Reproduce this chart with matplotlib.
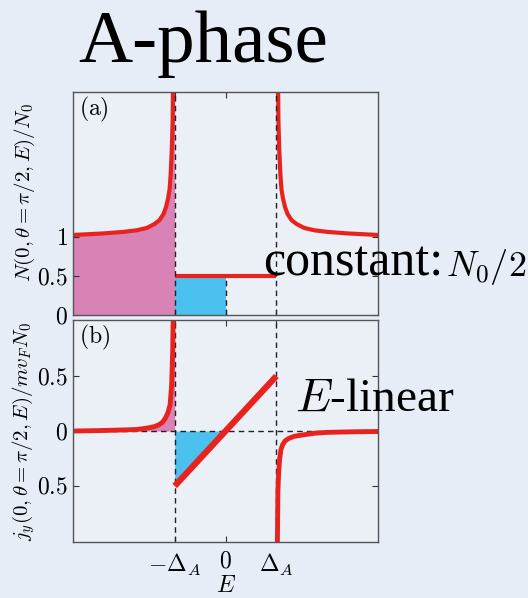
import matplotlib
matplotlib.use("Agg")
import matplotlib.pyplot as plt

plt.rcParams['mathtext.fontset'] = 'cm'
plt.rcParams['font.family'] = ['Liberation Serif', 'DejaVu Serif']

# energy axis ticks (units of Delta_A)
e_ticks = [-1, 0, 1]
e_ticklabels = [r'$-\Delta_A$', r'$0$', r'$\Delta_A$']

# (a) density of states, |E| > Delta_A branch (mirrored)
e_a = [1.035, 1.04, 1.05, 1.06, 1.08, 1.10, 1.13, 1.17, 1.22, 1.30, 1.40, 1.55, 1.75, 2.0, 2.4, 3.0]
n_a = [2.87, 2.5, 2.28, 2.08, 1.8, 1.62, 1.5, 1.39, 1.3, 1.22, 1.17, 1.12, 1.09, 1.07, 1.05, 1.03]
n_gap = 0.5  # constant N0/2 inside the gap

# (b) current, left branch (E < -Delta_A)
e_b_left = [-3.0, -2.5, -2.0, -1.75, -1.54, -1.4, -1.31, -1.24, -1.18, -1.13, -1.09, -1.06, -1.04, -1.03]
j_b_left = [0.0, 0.004, 0.01, 0.014, 0.027, 0.04, 0.057, 0.08, 0.12, 0.17, 0.24, 0.42, 0.72, 1.02]
# (b) current, right branch (E > Delta_A)
e_b_right = [1.02, 1.03, 1.045, 1.065, 1.09, 1.12, 1.17, 1.25, 1.35, 1.51, 1.75, 2.0, 2.5, 3.0]
j_b_right = [-1.02, -0.55, -0.38, -0.25, -0.17, -0.127, -0.09, -0.066, -0.048, -0.036, -0.02, -0.012, -0.007, -0.004]
# (b) linear part inside the gap
e_lin = [-1.0, 1.0]
j_lin = [-0.5, 0.5]

red = '#e8231e'
pink = '#d982b5'
blue = '#4cc0ee'
bg = '#e6edf6'

fig = plt.figure(figsize=(5.28, 5.98), dpi=100, facecolor=bg)
axa = fig.add_axes([0.1383, 0.4732, 0.5777, 0.373])
axb = fig.add_axes([0.1383, 0.0936, 0.5777, 0.3712])

for ax in (axa, axb):
    ax.set_facecolor('#ebf0f7')
    ax.set_xlim(-3, 3)
    ax.set_xticks(e_ticks)
    ax.tick_params(direction='in', top=True, right=True, length=4, width=0.8,
                   color='#333333', labelsize=17)
    for s in ax.spines.values():
        s.set_color('#555555')
        s.set_linewidth(1.0)

# ---- (a)
ya_top = 2.87
e_left = [-e for e in e_a][::-1]
n_left = n_a[::-1]
axa.fill_between(e_left + [-1.0], n_left + [ya_top], 0, color=pink, lw=0)
axa.fill_between([-1.0, 0.0], [n_gap, n_gap], 0, color=blue, lw=0)
axa.plot(e_left, n_left, color=red, lw=3, solid_capstyle='butt')
axa.plot(e_a, n_a, color=red, lw=3, solid_capstyle='butt')
axa.plot([-1, 1], [n_gap, n_gap], color=red, lw=3, solid_capstyle='butt')
for x in (-1, 1):
    axa.axvline(x, color='#222222', lw=1, ls=(0, (4, 3)))
axa.plot([0, 0], [0, n_gap], color='#222222', lw=1, ls=(0, (4, 3)))
axa.set_ylim(0, ya_top)
axa.set_yticks([0, 0.5, 1])
axa.set_yticklabels(['$0$', '$0.5$', '$1$'])
axa.set_xticklabels([])
axa.set_ylabel(r'$N(0,\theta=\pi/2,E)/N_0$', fontsize=15, labelpad=0, y=0.55)
axa.text(0.02, 0.985, r'$\mathrm{(a)}$', transform=axa.transAxes, fontsize=17, va='top')

# ---- (b)
axb.fill_between(e_b_left + [-1.0], j_b_left + [1.01], 0, color=pink, lw=0)
axb.fill_between([-1.0, 0.0], [-0.5, 0.0], 0, color=blue, lw=0)
axb.axhline(0, color='#222222', lw=1, ls=(0, (4, 3)))
for x in (-1, 1):
    axb.axvline(x, color='#222222', lw=1, ls=(0, (4, 3)))
axb.plot(e_b_left, j_b_left, color=red, lw=3.5, solid_capstyle='butt')
axb.plot(e_b_right, j_b_right, color=red, lw=3.5, solid_capstyle='butt')
axb.plot(e_lin, j_lin, color=red, lw=4.5, solid_capstyle='butt')
axb.set_ylim(-1.01, 1.01)
axb.set_yticks([-0.5, 0, 0.5])
axb.set_yticklabels(['$0.5$', '$0$', '$0.5$'])
axb.set_xticklabels(e_ticklabels)
axb.tick_params(axis='x', pad=7)
axb.set_xlabel('$E$', fontsize=17, labelpad=-1)
axb.set_ylabel(r'$j_y(0,\theta=\pi/2,E)/mv_FN_0$', fontsize=15, labelpad=0)
axb.text(0.02, 0.985, r'$\mathrm{(b)}$', transform=axb.transAxes, fontsize=17, va='top')

# slide annotations
fig.text(203 / 528, 1 - 62 / 598, 'A-phase', fontsize=54, ha='center', va='baseline')
fig.text(263 / 528, 1 - 276 / 598, 'constant:', fontsize=36, ha='left', va='baseline')
fig.text(446 / 528, 1 - 276 / 598, '$N_0/2$', fontsize=26, ha='left', va='baseline')
fig.text(295 / 528, 1 - 411 / 598, '$E$-linear', fontsize=34, ha='left', va='baseline')

fig.savefig('out.png', dpi=100, facecolor=bg)
